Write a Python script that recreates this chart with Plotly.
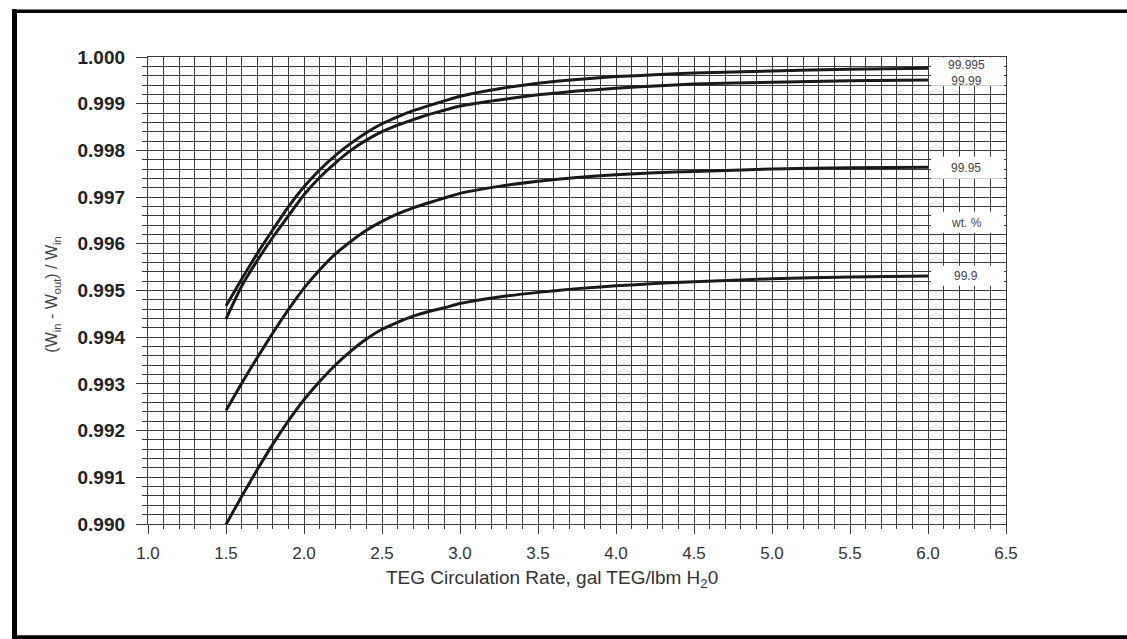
import plotly.graph_objects as go

# ---- data ----
rate = [1.5, 1.6, 1.7, 1.8, 1.9, 2.0, 2.1, 2.2, 2.3, 2.4, 2.5, 2.6, 2.7, 2.8,
        2.9, 3.0, 3.25, 3.5, 3.75, 4.0, 4.25, 4.5, 5.0, 5.5, 6.0]
teg_99995 = [0.99467, 0.99524, 0.99579, 0.99630, 0.99679, 0.99722, 0.99758,
             0.99789, 0.99815, 0.99838, 0.99857, 0.99872, 0.99885, 0.99896,
             0.99906, 0.99916, 0.99932, 0.99944, 0.99952, 0.99958, 0.99962,
             0.99966, 0.99970, 0.99974, 0.99976]
teg_9999 = [0.99439, 0.99509, 0.99564, 0.99614, 0.99660, 0.99705, 0.99742,
            0.99773, 0.99800, 0.99822, 0.99840, 0.99854, 0.99866, 0.99877,
            0.99886, 0.99895, 0.99908, 0.99919, 0.99927, 0.99933, 0.99938,
            0.99942, 0.99946, 0.99949, 0.99951]
teg_9995 = [0.99243, 0.99301, 0.99356, 0.99409, 0.99459, 0.99505, 0.99544,
            0.99578, 0.99605, 0.99629, 0.99648, 0.99664, 0.99677, 0.99688,
            0.99698, 0.99708, 0.99723, 0.99734, 0.99742, 0.99748, 0.99752,
            0.99755, 0.99760, 0.99763, 0.99764]
teg_999 = [0.98999, 0.99059, 0.99116, 0.99171, 0.99221, 0.99266, 0.99305,
           0.99340, 0.99370, 0.99396, 0.99417, 0.99432, 0.99445, 0.99455,
           0.99463, 0.99472, 0.99486, 0.99496, 0.99504, 0.99510, 0.99515,
           0.99519, 0.99525, 0.99529, 0.99531]
series_names = ["99.995", "99.99", "99.95", "99.9"]
series_values = [teg_99995, teg_9999, teg_9995, teg_999]
x_title = "TEG Circulation Rate, gal TEG/lbm H<sub>2</sub>0"
y_title = "(W<sub>in</sub> - W<sub>out</sub>) / W<sub>in</sub>"
unit_label = "wt. %"

# ---- layout geometry (page pixels) ----
W, H = 1127, 639
L, R, T, B = 148, 1006, 57.3, 524.3
PW, PH = R - L, B - T


def px(xp):
    return (xp - L) / PW


def py(yp):
    return (B - yp) / PH


GRID = "#3c3c3c"
fig = go.Figure()
for name, vals in zip(series_names, series_values):
    fig.add_trace(go.Scatter(x=rate, y=vals, mode="lines", name=name,
                             line=dict(color="#1a1a1a", width=3, shape="spline",
                                       smoothing=0.5),
                             showlegend=False, hoverinfo="x+y+name"))

shapes = []
# outer frame: left, top and bottom edges (right edge lies outside the picture)
frame = [(14.5, 9.5, 14.5, 639, 5), (12, 11.5, 1127, 11.5, 3.5),
         (12, 637.5, 1127, 637.5, 4)]
for x0, y0, x1, y1, w in frame:
    shapes.append(dict(type="line", xref="paper", yref="paper",
                       x0=px(x0), x1=px(x1), y0=py(y0), y1=py(y1),
                       line=dict(color="black", width=w), layer="above"))
# white label boxes
boxes = [(57.8, 86), (157, 179), (212, 233), (266, 286)]
for y0, y1 in boxes:
    shapes.append(dict(type="rect", xref="paper", yref="paper",
                       x0=px(931), x1=px(1004), y0=py(y1), y1=py(y0),
                       line=dict(width=0), fillcolor="white", layer="above"))

annotations = []
label_pos = [(series_names[0] + "<br>" + series_names[1], 73),
             (series_names[2], 168), (unit_label, 223), (series_names[3], 276)]
for txt, yp in label_pos:
    annotations.append(dict(text=txt, xref="paper", yref="paper",
                            x=px(966), y=py(yp), showarrow=False,
                            xanchor="center", yanchor="middle",
                            font=dict(family="Liberation Sans", size=12,
                                      color="#444")))
annotations.append(dict(text=x_title, xref="paper", yref="paper",
                        x=px(552), y=py(579), showarrow=False,
                        xanchor="center", yanchor="middle",
                        font=dict(family="Liberation Sans", size=19,
                                  color="#333")))
annotations.append(dict(text=y_title, xref="paper", yref="paper",
                        x=px(53), y=py(295), showarrow=False, textangle=-90,
                        xanchor="center", yanchor="middle",
                        font=dict(family="Liberation Sans", size=16,
                                  color="#444")))

fig.update_layout(
    width=W, height=H,
    margin=dict(l=L, r=W - R, t=T, b=H - B, pad=0),
    paper_bgcolor="white", plot_bgcolor="white",
    shapes=shapes, annotations=annotations,
    xaxis=dict(range=[1.0, 6.5], tick0=1.0, dtick=0.5, tickformat=".1f",
               ticks="outside", ticklen=9, tickwidth=1.3, tickcolor=GRID,
               showgrid=True, gridcolor=GRID, gridwidth=1.3,
               showline=True, linecolor=GRID, linewidth=1.3, mirror=True,
               zeroline=False, ticklabelstandoff=4,
               tickfont=dict(family="Liberation Sans", size=17, color="#333"),
               minor=dict(dtick=0.1, tick0=1.0, ticks="outside", ticklen=4,
                          tickwidth=1.3, tickcolor=GRID, showgrid=True,
                          gridcolor=GRID, gridwidth=1.3)),
    yaxis=dict(range=[0.990, 1.000], tick0=0.990, dtick=0.001,
               tickformat=".3f",
               ticks="outside", ticklen=11, tickwidth=1.3, tickcolor=GRID,
               showgrid=True, gridcolor=GRID, gridwidth=1.3,
               showline=True, linecolor=GRID, linewidth=1.3, mirror=True,
               zeroline=False, ticklabelstandoff=7,
               tickfont=dict(family="Liberation Sans", size=19, color="#222",
                             weight="bold"),
               minor=dict(dtick=0.0002, tick0=0.990, ticks="outside",
                          ticklen=5, tickwidth=1.3, tickcolor=GRID,
                          showgrid=True, gridcolor=GRID, gridwidth=1.3)),
)

fig.write_html(
    "out.html",
    config={"displayModeBar": False},
    post_script="document.body.style.margin='0px';"
                "document.body.style.overflow='hidden';",
)
